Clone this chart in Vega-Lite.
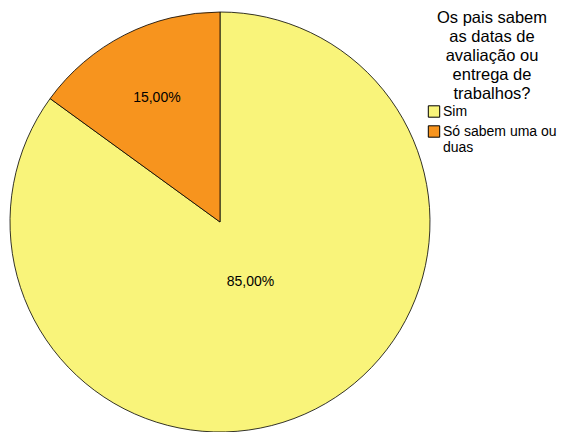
{
  "$schema": "https://vega.github.io/schema/vega-lite/v6.json",
  "width": 440,
  "height": 420,
  "autosize": {"type": "none"},
  "padding": {"left": 0, "top": 12, "right": 123, "bottom": 0},
  "background": "white",
  "config": {"view": {"stroke": null}},
  "data": {
    "values": [
      {"resposta": "Sim", "pct": 85, "rotulo": "85,00%"},
      {"resposta": "Só sabem uma ou duas", "pct": 15, "rotulo": "15,00%"}
    ]
  },
  "layer": [
    {
      "mark": {"type": "arc", "outerRadius": 210, "stroke": "black", "strokeWidth": 0.8},
      "encoding": {
        "theta": {"field": "pct", "type": "quantitative", "stack": true},
        "order": {"field": "resposta", "sort": "ascending"},
        "color": {
          "field": "resposta",
          "type": "nominal",
          "scale": {"domain": ["Sim", "Só sabem uma ou duas"], "range": ["#F9F47A", "#F7941E"]},
          "legend": {
            "orient": "none",
            "legendX": 427,
            "legendY": -2,
            "padding": 0,
            "title": ["Os pais sabem", "as datas de", "avaliação ou", "entrega de", "trabalhos?"],
            "titleFont": "Liberation Sans",
            "titleFontSize": 16.5,
            "titleFontWeight": "normal",
            "titleColor": "black",
            "titleAlign": "center",
            "titleAnchor": "middle",
            "titleLineHeight": 19,
            "titlePadding": 2,
            "labelFont": "Liberation Sans",
            "labelFontSize": 14,
            "labelColor": "black",
            "labelOffset": 2,
            "labelLimit": 200,
            "labelExpr": "datum.label == 'Só sabem uma ou duas' ? ['Só sabem uma ou', 'duas'] : datum.label",
            "symbolType": "square",
            "symbolSize": 130,
            "symbolStrokeColor": "black",
            "symbolStrokeWidth": 1,
            "symbolOpacity": 1,
            "rowPadding": 4
          }
        }
      }
    },
    {
      "mark": {"type": "text", "font": "Liberation Sans", "fontSize": 14, "color": "black"},
      "encoding": {
        "theta": {"field": "pct", "type": "quantitative", "stack": true},
        "order": {"field": "resposta", "sort": "ascending"},
        "radius": {"field": "pct", "type": "quantitative", "scale": {"type": "linear", "domain": [15, 85], "range": [139, 67], "zero": false}},
        "detail": {"field": "resposta", "type": "nominal"},
        "text": {"field": "rotulo", "type": "nominal"}
      }
    }
  ]
}
